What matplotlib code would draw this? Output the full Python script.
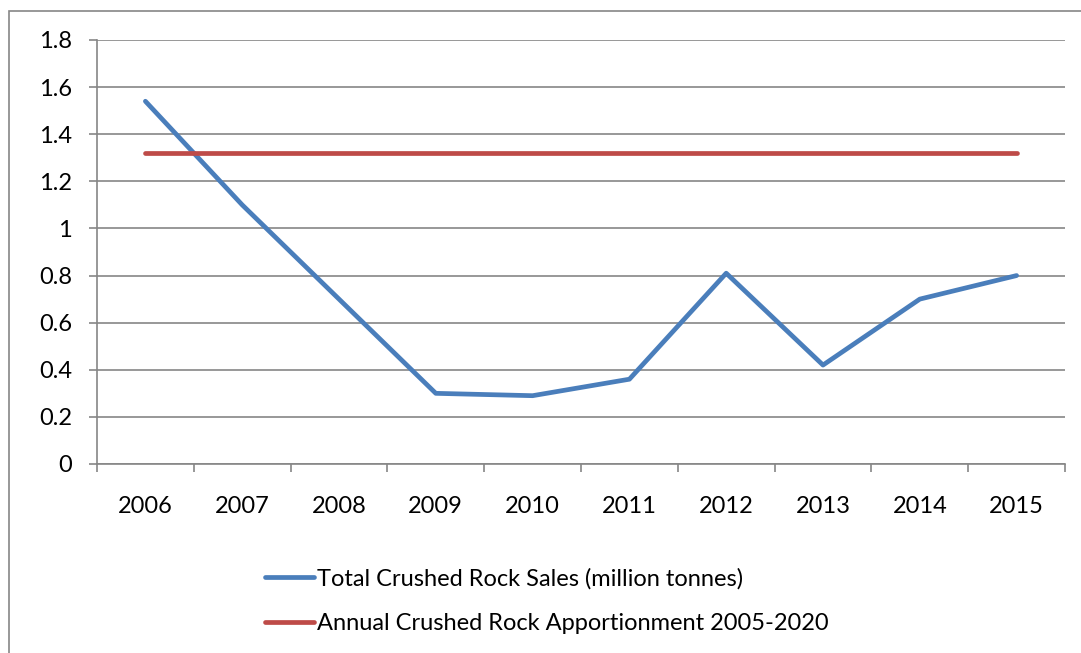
import matplotlib
matplotlib.use("Agg")
import matplotlib.pyplot as plt
from matplotlib.patches import Rectangle

years = ["2006", "2007", "2008", "2009", "2010", "2011", "2012", "2013", "2014", "2015"]
sales = [1.54, 1.10, 0.70, 0.30, 0.29, 0.36, 0.81, 0.42, 0.70, 0.80]
apportionment = [1.32] * 10
yticks = [0, 0.2, 0.4, 0.6, 0.8, 1, 1.2, 1.4, 1.6, 1.8]
ylabels = ["0", "0.2", "0.4", "0.6", "0.8", "1", "1.2", "1.4", "1.6", "1.8"]

plt.rcParams['font.family'] = ['Lato', 'DejaVu Sans']
W, H = 1081, 653
fs = 17
fig = plt.figure(figsize=(W / 100, H / 100), dpi=100)
grey = "#868686"

# outer chart border
fig.add_artist(Rectangle((9 / W, -0.05), 1.2, 1 - 11 / H + 0.05, transform=fig.transFigure,
                         fill=False, edgecolor=grey, linewidth=1.2))

ax = fig.add_axes([97 / W, (H - 464) / H, 968 / W, 424 / H])
x = [i + 0.5 for i in range(len(years))]
ax.plot(x, sales, color="#4A7EBB", lw=3.4, solid_capstyle="round", solid_joinstyle="round",
        label="Total Crushed Rock Sales (million tonnes)", zorder=3)
ax.plot(x, apportionment, color="#BE4B48", lw=3.4, solid_capstyle="round",
        label="Annual Crushed Rock Apportionment 2005-2020", zorder=3)

ax.set_xlim(0, 10)
ax.set_ylim(0, 1.8)
ax.set_yticks(yticks)
ax.set_yticklabels(ylabels, fontsize=fs)
ax.set_xticks(x)
ax.set_xticklabels(years, fontsize=fs)
ax.set_xticks(range(11), minor=True)
ax.tick_params(axis="x", which="major", length=0, pad=23)
ax.tick_params(axis="x", which="minor", length=6, width=1.2, color=grey, direction="out")
ax.tick_params(axis="y", length=6, width=1.2, color=grey, direction="out", pad=12)
ax.yaxis.grid(True, color=grey, lw=1.2)
ax.set_axisbelow(True)
for s in ["top", "right"]:
    ax.spines[s].set_visible(False)
ax.spines["left"].set_color(grey)
ax.spines["bottom"].set_color(grey)
ax.spines["left"].set_linewidth(1.2)
ax.spines["bottom"].set_linewidth(1.2)

fig.legend(loc="upper left", bbox_to_anchor=(253 / W, 1 - 556 / H), frameon=False,
           fontsize=fs, handlelength=2.1, handletextpad=0.1, labelspacing=1.0,
           borderpad=0)

fig.savefig("out.png", dpi=100)
